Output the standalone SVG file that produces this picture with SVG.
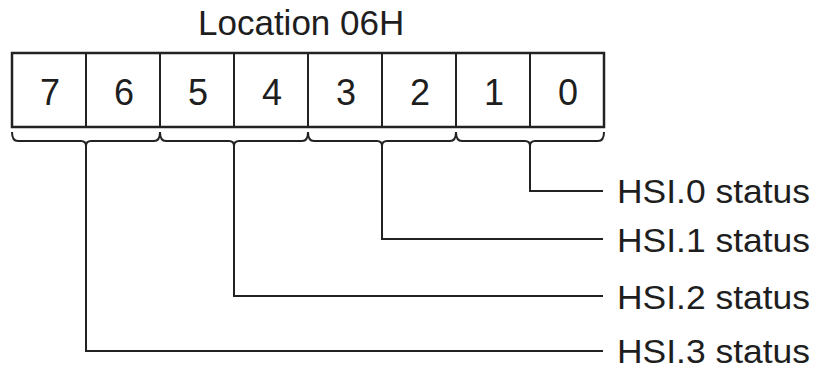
<svg xmlns="http://www.w3.org/2000/svg" width="821" height="370" viewBox="0 0 821 370">
<style>
text{font-family:"Liberation Sans",Arial,Helvetica,sans-serif;fill:#1e1e1e}
.digit{font-size:36px;text-anchor:middle}
.lbl{font-size:33.5px}
.title{font-size:35px}
.cell{fill:#fff;stroke:#222;stroke-width:2}
.box{fill:none;stroke:#222;stroke-width:2.5}
.conn{fill:none;stroke:#222;stroke-width:2;stroke-linejoin:miter}
</style>
<rect width="821" height="370" fill="#fff"/>
<g id="title"><text class="title" x="198" y="35">Location 06H</text></g>
<g id="register">
<rect class="cell" x="12" y="53" width="74" height="74"/>
<rect class="cell" x="86" y="53" width="74" height="74"/>
<rect class="cell" x="160" y="53" width="74" height="74"/>
<rect class="cell" x="234" y="53" width="74" height="74"/>
<rect class="cell" x="308" y="53" width="74" height="74"/>
<rect class="cell" x="382" y="53" width="74" height="74"/>
<rect class="cell" x="456" y="53" width="74" height="74"/>
<rect class="cell" x="530" y="53" width="74" height="74"/>
<rect class="box" x="12" y="53" width="592" height="74"/>
<text class="digit" x="50" y="105">7</text>
<text class="digit" x="124" y="105">6</text>
<text class="digit" x="198" y="105">5</text>
<text class="digit" x="272" y="105">4</text>
<text class="digit" x="346" y="105">3</text>
<text class="digit" x="420" y="105">2</text>
<text class="digit" x="494" y="105">1</text>
<text class="digit" x="568" y="105">0</text>
</g>
<g id="connectors">
<path class="conn" d="M12,132 Q12,141 18,141 L81,141 Q86,141 86,146 Q86,141 91,141 L154,141 Q160,141 160,132"/>
<path class="conn" d="M160,132 Q160,141 166,141 L229,141 Q234,141 234,146 Q234,141 239,141 L302,141 Q308,141 308,132"/>
<path class="conn" d="M308,132 Q308,141 314,141 L377,141 Q382,141 382,146 Q382,141 387,141 L450,141 Q456,141 456,132"/>
<path class="conn" d="M456,132 Q456,141 462,141 L525,141 Q530,141 530,146 Q530,141 535,141 L598,141 Q604,141 604,132"/>
<path class="conn" d="M530,146 L530,191 L603,191"/>
<path class="conn" d="M382,146 L382,239 L603,239"/>
<path class="conn" d="M234,146 L234,296 L603,296"/>
<path class="conn" d="M86,146 L86,351 L603,351"/>
</g>
<g id="hsi0"><text class="lbl" x="617" y="203" textLength="193" lengthAdjust="spacingAndGlyphs">HSI.0 status</text></g>
<g id="hsi1"><text class="lbl" x="617" y="252" textLength="193" lengthAdjust="spacingAndGlyphs">HSI.1 status</text></g>
<g id="hsi2"><text class="lbl" x="617" y="309" textLength="193" lengthAdjust="spacingAndGlyphs">HSI.2 status</text></g>
<g id="hsi3"><text class="lbl" x="617" y="363" textLength="193" lengthAdjust="spacingAndGlyphs">HSI.3 status</text></g>
</svg>
